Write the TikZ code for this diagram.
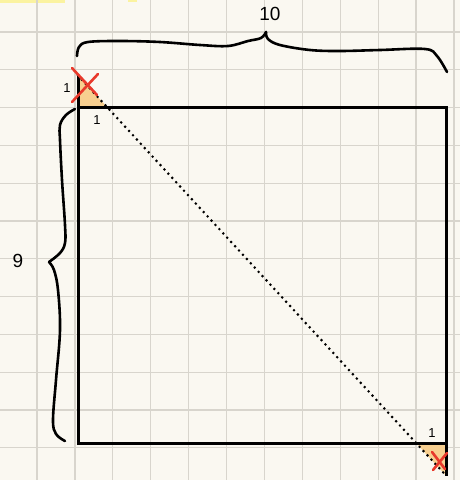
\documentclass[tikz,border=0pt]{standalone}
\usepackage{fontspec}
\setmainfont{Liberation Sans}
\definecolor{paper}{HTML}{FAF8F1}
\definecolor{gridc}{HTML}{D8D5CD}
\definecolor{tri}{HTML}{F7CF8F}
\definecolor{crossc}{HTML}{E8392B}
\definecolor{hl}{HTML}{FBF3A0}
\begin{document}
\begin{tikzpicture}[x=1pt,y=-1pt,
  gridline/.style={draw=gridc,line width=1.2pt},
  edge/.style={draw=black,line width=3pt},
  diag/.style={draw=black,line width=2.9pt,dash pattern=on 0pt off 5.8pt,line cap=round},
  cross/.style={draw=crossc,line width=2.6pt,line cap=round},
  bracestroke/.style={draw=black,line width=2.6pt,line cap=round,line join=round},
  trifill/.style={fill=tri},
  biglbl/.style={font=\fontsize{19}{19}\selectfont,inner sep=0pt},
  smalllbl/.style={font=\fontsize{13}{13}\selectfont,inner sep=0pt}]
\useasboundingbox (0,0) rectangle (460,480);
\fill[paper] (0,0) rectangle (460,480);
\fill[hl] (0,0) rectangle (65,2.5);
\fill[hl] (128,0) rectangle (137,2);
\foreach \k in {0,...,11} {
  \draw[gridline] ({37+37.9*\k},0) -- ({37+37.9*\k},480);
  \draw[gridline] (0,{32+37.8*\k}) -- (460,{32+37.8*\k});
}
% corners
\coordinate (tl) at (78,107);
\coordinate (tr) at (446,107);
\coordinate (br) at (446,443);
\coordinate (bl) at (78,443);
\coordinate (apexA) at (78,75.5);
\coordinate (footA) at (107,107);
\coordinate (apexB) at (446,475.5);
\coordinate (footB) at (416,443);
% triangles
\fill[trifill] (tl) -- (apexA) -- (footA) -- cycle;
\fill[trifill] (br) -- (apexB) -- (footB) -- cycle;
% square
\draw[edge] (tl) -- (tr) -- (br) -- (bl) -- cycle;
\draw[edge] (tl) -- (apexA);
\draw[edge] (br) -- (apexB);
% diagonal
\draw[diag] (apexA) -- (apexB);
% crosses
\draw[cross] (72,68) -- (97,95);
\draw[cross] (72,102) -- (98,74);
\draw[cross] (432,452) -- (445,469);
\draw[cross] (447,453) -- (433,470);
% top brace
\draw[bracestroke] plot[smooth,tension=0.6] coordinates {(77,56) (79,47) (88,42) (120,41) (160,42) (200,45) (228,46) (248,41) (261,38) (266,32)};
\draw[bracestroke] plot[smooth,tension=0.6] coordinates {(266,32) (268,39) (280,45) (310,50) (340,51) (380,50) (425,49) (437,56) (447,72)};
% left brace
\draw[bracestroke] plot[smooth,tension=0.6] coordinates {(75,109) (66,115) (60,125) (60,140) (62,180) (65,225) (65,243) (60,253) (49,262)};
\draw[bracestroke] plot[smooth,tension=0.6] coordinates {(49,262) (54,270) (58,290) (60,330) (56,380) (53,420) (56,434) (65,441)};
% labels
\node[biglbl] (ten) at (270,14) {10};
\node[biglbl] (nine) at (18,261) {9};
\node[smalllbl] (oneA) at (67,88) {1};
\node[smalllbl] (oneB) at (97,120) {1};
\node[smalllbl] (oneC) at (432,433) {1};
\end{tikzpicture}
\end{document}
